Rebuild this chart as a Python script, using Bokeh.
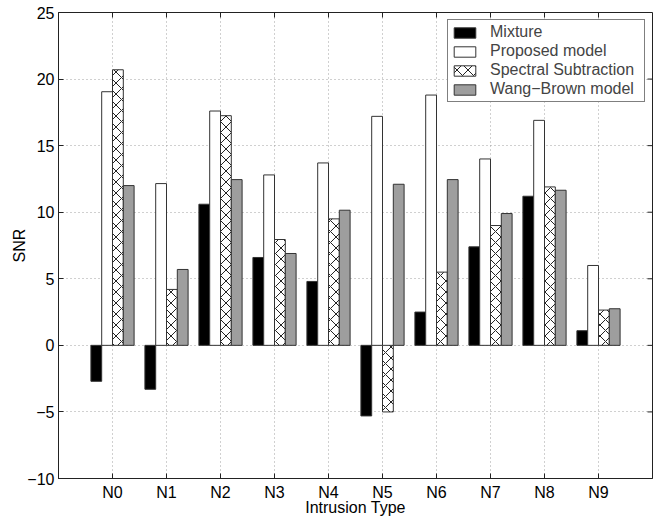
from bokeh.plotting import figure
from bokeh.models import (ColumnDataSource, FactorRange, Range1d, FixedTicker,
                          Legend, LegendItem)
from bokeh.transform import dodge
from bokeh.embed import file_html
from bokeh.resources import INLINE

categories = ["N0", "N1", "N2", "N3", "N4", "N5", "N6", "N7", "N8", "N9"]
mixture = [-2.7, -3.3, 10.6, 6.6, 4.8, -5.3, 2.5, 7.4, 11.2, 1.1]
proposed = [19.05, 12.15, 17.6, 12.8, 13.7, 17.2, 18.8, 14.0, 16.9, 6.0]
spectral = [20.7, 4.2, 17.25, 7.95, 9.5, -5.0, 5.5, 9.0, 11.9, 2.65]
wang_brown = [12.0, 5.7, 12.45, 6.9, 10.15, 12.1, 12.45, 9.9, 11.65, 2.75]
series_names = ["Mixture", "Proposed model", "Spectral Subtraction", "Wang\u2212Brown model"]
y_ticks = [-10, -5, 0, 5, 10, 15, 20, 25]
x_title = "Intrusion Type"
y_title = "SNR"

Y_MIN, Y_MAX = -10, 25
PAD = 0.5

src = ColumnDataSource(dict(cat=categories, mix=mixture, prop=proposed,
                            spec=spectral, wang=wang_brown))

FONT = "Liberation Sans"
FS = "16px"
AX = "#222222"

p = figure(width=655, height=518, output_backend="svg", toolbar_location=None,
           x_range=FactorRange(factors=categories, range_padding=PAD,
                               range_padding_units="absolute"),
           y_range=Range1d(Y_MIN, Y_MAX),
           min_border_left=58, min_border_right=3, min_border_top=12,
           min_border_bottom=39, x_axis_label=x_title, y_axis_label=y_title)
p.background_fill_color = "white"
p.border_fill_color = "white"
p.outline_line_color = AX
p.outline_line_width = 1

# grid
for g in (p.xgrid, p.ygrid):
    g.grid_line_color = "#a0a0a0"
    g.grid_line_dash = "1 3"
    g.grid_line_width = 1
p.yaxis.ticker = FixedTicker(ticks=y_ticks)
p.ygrid.ticker = FixedTicker(ticks=y_ticks)

# axes style
for ax in (p.xaxis[0], p.yaxis[0]):
    ax.major_tick_in = 5
    ax.major_tick_out = 0
    ax.minor_tick_in = 0
    ax.minor_tick_out = 0
    ax.axis_line_color = AX
    ax.major_tick_line_color = AX
    ax.major_label_text_font = FONT
    ax.major_label_text_font_size = FS
    ax.major_label_text_color = "black"
    ax.axis_label_text_font = FONT
    ax.axis_label_text_font_size = FS
    ax.axis_label_text_font_style = "normal"
    ax.axis_label_text_color = "black"
p.yaxis.major_label_overrides = {-10: "\u221210", -5: "\u22125"}
p.yaxis.major_label_standoff = 4
p.yaxis.axis_label_standoff = -4
p.xaxis.major_label_standoff = 5
p.xaxis.axis_label_standoff = -5

# mirrored inward ticks on the top and right edges of the frame
n = len(categories)
tick_len_y = 5 * (Y_MAX - Y_MIN) / 467.0
tick_len_x = 5 * (n + 2 * PAD) / 594.0
p.segment(x0=categories, x1=categories, y0=[Y_MAX] * n, y1=[Y_MAX - tick_len_y] * n,
          line_color=AX, line_width=1)
x_right = n + PAD
p.segment(x0=[x_right] * len(y_ticks), x1=[x_right - tick_len_x] * len(y_ticks),
          y0=y_ticks, y1=y_ticks, line_color=AX, line_width=1)

W = 0.2
EDGE = "#333333"
r_mix = p.vbar(x=dodge("cat", -0.3, range=p.x_range), top="mix", bottom=0, width=W,
               source=src, fill_color="black", line_color=EDGE, line_width=1)
r_prop = p.vbar(x=dodge("cat", -0.1, range=p.x_range), top="prop", bottom=0, width=W,
                source=src, fill_color="white", line_color=EDGE, line_width=1)
r_spec = p.vbar(x=dodge("cat", 0.1, range=p.x_range), top="spec", bottom=0, width=W,
                source=src, fill_color="white", line_color=EDGE, line_width=1,
                hatch_pattern="diagonal_cross", hatch_color="#222222", hatch_scale=11,
                hatch_weight=1)
r_wang = p.vbar(x=dodge("cat", 0.3, range=p.x_range), top="wang", bottom=0, width=W,
                source=src, fill_color="#9e9e9e", line_color=EDGE, line_width=1)

legend = Legend(items=[LegendItem(label=series_names[0], renderers=[r_mix]),
                       LegendItem(label=series_names[1], renderers=[r_prop]),
                       LegendItem(label=series_names[2], renderers=[r_spec]),
                       LegendItem(label=series_names[3], renderers=[r_wang])],
                location="top_right", margin=7, padding=3, spacing=1,
                glyph_width=27, glyph_height=13, label_height=17, label_width=151,
                label_standoff=12,
                label_text_font=FONT, label_text_font_size=FS,
                label_text_line_height=1.0,
                border_line_color="black", border_line_width=1,
                background_fill_color="white", background_fill_alpha=1)
p.add_layout(legend)

open("out.html", "w").write(file_html(p, INLINE))
